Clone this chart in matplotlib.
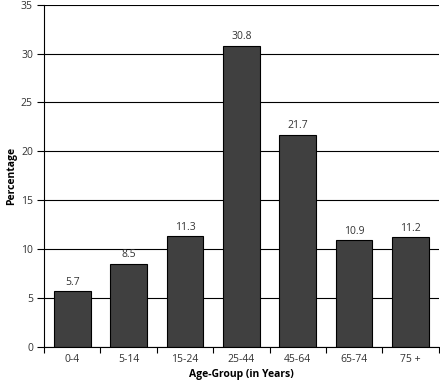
import matplotlib.pyplot as plt
import numpy as np

groups = ['0-4', '5-14', '15-24', '25-44', '45-64', '65-74', '75 +']
values = [5.7, 8.5, 11.3, 30.8, 21.7, 10.9, 11.2]

plt.rcParams['font.family'] = ['Open Sans', 'DejaVu Sans']

fig = plt.figure(figsize=(4.4, 3.85), dpi=100)
ax = fig.add_axes([0.1, 0.099, 0.897, 0.889])

x = np.arange(len(groups))
ax.set_axisbelow(True)
ax.yaxis.grid(True, color='black', linewidth=0.8)
bars = ax.bar(x, values, width=0.65, color='#404040', edgecolor='black', linewidth=0.8)
for xi, v in zip(x, values):
    ax.text(xi, v + 0.35, f'{v}', ha='center', va='bottom', fontsize=7.5, color='#333333')

ax.set_xlim(-0.5, len(groups) - 0.5)
ax.set_ylim(0, 35)
ax.set_yticks(range(0, 36, 5))
ax.set_xticks(x)
ax.set_xticklabels(groups)
ax.set_xticks(np.arange(-0.5, len(groups)), minor=True)
ax.tick_params(axis='x', which='major', length=0, pad=5, labelsize=7.5, labelcolor='#333333')
ax.tick_params(axis='x', which='minor', length=4, width=0.8)
ax.tick_params(axis='y', length=5, width=0.8, pad=3, labelsize=7.5, labelcolor='#333333')

for s in ['top', 'right']:
    ax.spines[s].set_visible(False)
ax.spines['left'].set_linewidth(0.8)
ax.spines['bottom'].set_linewidth(0.8)

ax.set_xlabel('Age-Group (in Years)', fontsize=7.5, fontweight='bold', labelpad=3)
ax.set_ylabel('Percentage', fontsize=7.5, fontweight='bold', labelpad=3)

fig.savefig('out.png', dpi=100)
